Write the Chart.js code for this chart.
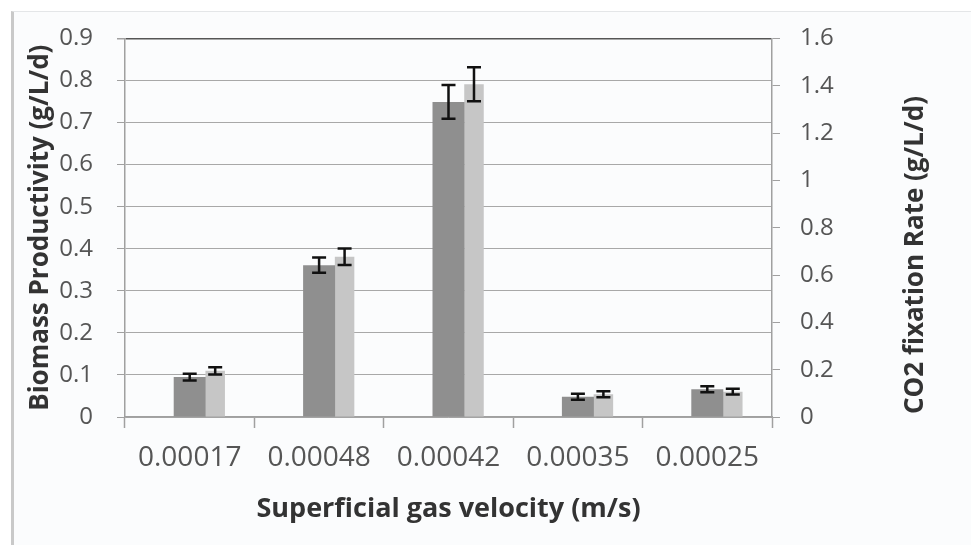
<!DOCTYPE html>
<html>
<head>
<meta charset="utf-8">
<script src="https://cdn.jsdelivr.net/npm/chart.js@4.4.1/dist/chart.umd.min.js"></script>
<style>
  html, body { margin: 0; padding: 0; background: #ffffff; }
  #wrap { position: relative; width: 971px; height: 545px; overflow: hidden; }
  #frame {
    position: absolute; left: 11px; top: 11px; right: 0; bottom: 0;
    background: #fbfcfd; border-left: 3px solid #c9c9c9; border-top: 1px solid #e4e6e8;
  }
  #sleepChart { position: absolute; left: 0; top: 0; }
</style>
</head>
<body>
<div id="wrap">
  <div id="frame"></div>
  <canvas id="sleepChart" width="971" height="545"></canvas>
</div>
<script>
const velocities = ['0.00017', '0.00048', '0.00042', '0.00035', '0.00025'];

const biomass = [0.095, 0.361, 0.749, 0.048, 0.066];
const biomassErr = [0.008, 0.018, 0.04, 0.007, 0.007];

const co2Rate = [0.195, 0.677, 1.406, 0.096, 0.107];
const co2Err = [0.015, 0.035, 0.072, 0.013, 0.012];

const leftTicks = ['0', '0.1', '0.2', '0.3', '0.4', '0.5', '0.6', '0.7', '0.8', '0.9'];
const rightTicks = ['0', '0.2', '0.4', '0.6', '0.8', '1', '1.2', '1.4', '1.6'];

const FONT = "'Open Sans', 'Liberation Sans', sans-serif";

// error bars drawn from the bar elements and the value scales
const errorBars = {
  id: 'errorBars',
  afterDatasetsDraw(chart) {
    const ctx = chart.ctx;
    chart.data.datasets.forEach((ds, i) => {
      if (!ds.errors) return;
      const meta = chart.getDatasetMeta(i);
      const scale = chart.scales[ds.yAxisID];
      meta.data.forEach((bar, j) => {
        const v = ds.data[j], e = ds.errors[j];
        const yTop = scale.getPixelForValue(v + e);
        const yBot = scale.getPixelForValue(v - e);
        ctx.save();
        ctx.strokeStyle = '#111';
        ctx.lineWidth = 2.5;
        ctx.beginPath();
        ctx.moveTo(bar.x, yTop); ctx.lineTo(bar.x, yBot);
        ctx.moveTo(bar.x - 7, yTop); ctx.lineTo(bar.x + 7, yTop);
        ctx.moveTo(bar.x - 7, yBot); ctx.lineTo(bar.x + 7, yBot);
        ctx.stroke();
        ctx.restore();
      });
    });
  }
};

// right title reads bottom to top like the left one
const rightTitle = {
  id: 'rightTitle',
  afterDraw(chart) {
    const ctx = chart.ctx;
    ctx.save();
    ctx.translate(916, 255);
    ctx.rotate(-Math.PI / 2);
    ctx.font = 'bold 26px ' + FONT;
    ctx.fillStyle = '#333';
    ctx.textAlign = 'center';
    ctx.textBaseline = 'middle';
    ctx.fillText('CO2 fixation Rate (g/L/d)', 0, 0);
    ctx.restore();
  }
};

const ctx = document.getElementById('sleepChart').getContext('2d');
new Chart(ctx, {
  type: 'bar',
  data: {
    labels: velocities,
    datasets: [
      { label: '', data: velocities.map(() => null), yAxisID: 'y', barPercentage: 1 },
      {
        label: 'Biomass Productivity',
        data: biomass,
        errors: biomassErr,
        yAxisID: 'y',
        backgroundColor: '#8f8f8f',
        barPercentage: 1.255
      },
      {
        label: 'CO2 fixation Rate',
        data: co2Rate,
        errors: co2Err,
        yAxisID: 'y1',
        backgroundColor: '#c6c6c6',
        barPercentage: 0.765
      }
    ]
  },
  options: {
    responsive: false,
    animation: false,
    categoryPercentage: 0.591,
    layout: { padding: { top: 38, left: 0, right: 0, bottom: 0 } },
    plugins: { legend: { display: false }, tooltip: { enabled: false } },
    scales: {
      x: {
        afterFit: (s) => { s.height = 128; },
        grid: { drawOnChartArea: false, tickLength: 11, tickColor: '#a0a0a0', tickWidth: 1.5 },
        border: { color: '#a0a0a0', width: 1.5 },
        ticks: { color: '#555', font: { family: FONT, size: 28 }, padding: 13, autoSkip: false, maxRotation: 0 },
        title: {
          display: true, text: 'Superficial gas velocity (m/s)', color: '#333',
          font: { family: FONT, size: 27, weight: 'bold' }, padding: { top: 0, bottom: 19 }
        }
      },
      y: {
        position: 'left',
        min: 0, max: 0.9,
        afterFit: (s) => { s.width = 125; },
        ticks: {
          stepSize: 0.1, color: '#555', padding: 24,
          font: { family: FONT, size: 24 },
          callback: (v, i) => leftTicks[i]
        },
        grid: {
          color: (c) => c.index === 9 ? '#555' : '#a8a8a8',
          lineWidth: (c) => c.index === 9 ? 1.5 : 1,
          borderDash: (c) => c.index === 9 ? [] : [4, 3],
          tickBorderDash: [],
          tickColor: '#a0a0a0',
          tickLength: 8
        },
        border: { color: '#a0a0a0', width: 1.5 },
        title: {
          display: true, text: 'Biomass Productivity (g/L/d)', color: '#333',
          font: { family: FONT, size: 26, weight: 'bold' }, padding: { top: 25, bottom: 0 }
        }
      },
      y1: {
        position: 'right',
        min: 0, max: 1.6,
        afterFit: (s) => { s.width = 199; },
        ticks: {
          stepSize: 0.2, color: '#555', padding: 20,
          font: { family: FONT, size: 24 },
          callback: (v, i) => rightTicks[i]
        },
        grid: { drawOnChartArea: false, tickColor: '#a0a0a0', tickLength: 8 },
        border: { color: '#a0a0a0', width: 1.5 }
      }
    }
  },
  plugins: [errorBars, rightTitle]
});
</script>
</body>
</html>
